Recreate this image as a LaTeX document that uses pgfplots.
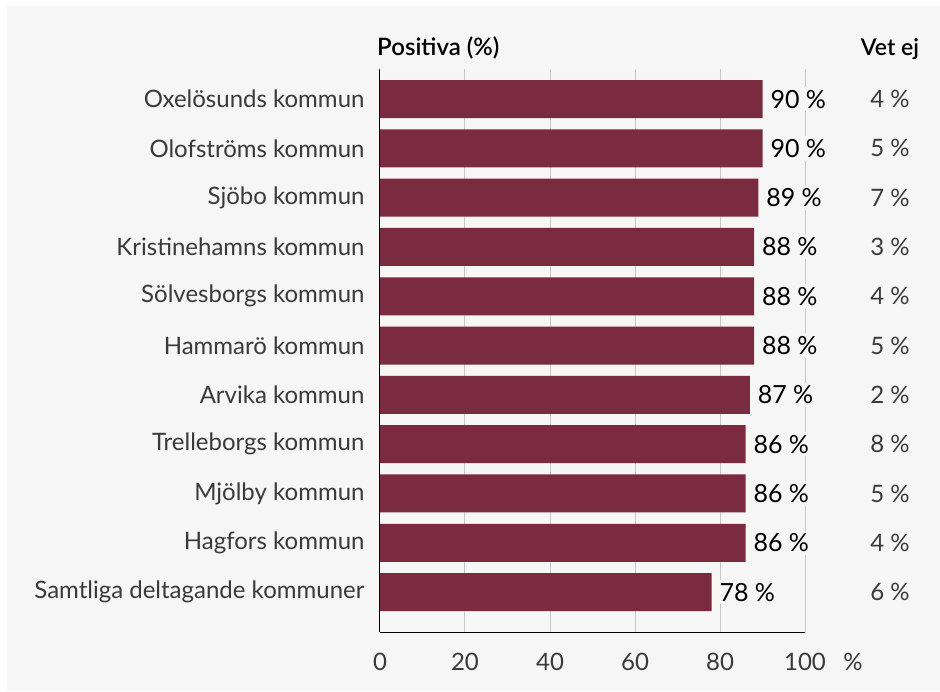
\documentclass[border=0pt]{standalone}
\usepackage{pgfplots}
\pgfplotsset{compat=1.18}
\usepackage{pgfplotstable}
\usepackage{fontspec}
\setmainfont{Lato}
\newfontfamily\semifont{Lato Semibold}

\definecolor{panel}{HTML}{F6F6F6}
\definecolor{barc}{HTML}{7B2B40}
\definecolor{gridc}{HTML}{C8C8C8}
\definecolor{txt}{HTML}{3A3A3A}

\pgfplotstableread[col sep=comma]{
name,pos,vetej
Oxelösunds kommun,90,4
Olofströms kommun,90,5
Sjöbo kommun,89,7
Kristinehamns kommun,88,3
Sölvesborgs kommun,88,4
Hammarö kommun,88,5
Arvika kommun,87,2
Trelleborgs kommun,86,8
Mjölby kommun,86,5
Hagfors kommun,86,4
Samtliga deltagande kommuner,78,6
}\data

\begin{document}
\begin{tikzpicture}
\useasboundingbox (0,0) rectangle (940pt,691pt);
\fill[white] (0,0) rectangle (940pt,691pt);
\fill[panel] (7pt,0) rectangle (940pt,685pt);
\begin{axis}[
  at={(380pt,59pt)}, anchor=south west,
  scale only axis, width=425pt, height=563pt,
  xmin=0, xmax=100, ymin=-0.61, ymax=10.81, y dir=reverse,
  axis x line*=bottom, axis y line*=left,
  axis line style={black, line width=1pt, -},
  xtick={0,20,...,100}, ytick={0,...,10},
  yticklabels from table={\data}{name},
  /pgf/number format/assume math mode=true,
  major tick length=0pt,
  xmajorgrids, major grid style={gridc, line width=1pt},
  tick label style={font=\fontsize{24}{28}\selectfont, text=txt},
  xticklabel style={anchor=base, yshift=-38pt},
  yticklabel style={xshift=-12pt},
  clip=false]
  \addplot[xbar, bar width=38pt, bar shift=0pt, fill=barc, draw=none,
    point meta=x,
    nodes near coords={\pgfmathprintnumber[assume math mode=true]{\pgfplotspointmeta}\hspace{0.25em}\%},
    every node near coord/.append style={anchor=west, fill=panel, text=black,
      font=\fontsize{25}{29}\selectfont, inner sep=3pt, xshift=5pt}]
    table[x=pos, y expr=\coordindex] {\data};
  \addplot[draw=none, mark=none, point meta=explicit symbolic,
    nodes near coords={\pgfplotspointmeta\hspace{0.25em}\%},
    every node near coord/.append style={anchor=center, text=txt,
      font=\fontsize{24}{28}\selectfont}]
    table[x expr=120, y expr=\coordindex, meta=vetej] {\data};
  \node[anchor=base west, inner sep=0pt, font=\semifont\fontsize{24}{28}\selectfont]
    at (axis cs:-0.7,-0.61) [yshift=14pt] {Positiva (\%)};
  \node[anchor=base, inner sep=0pt, font=\semifont\fontsize{23}{27}\selectfont]
    at (axis cs:120,-0.61) [yshift=14pt] {Vet ej};
  \node[anchor=base, inner sep=0pt, text=txt, font=\fontsize{24}{28}\selectfont]
    at (axis cs:111.3,10.81) [yshift=-38pt] {\%};
\end{axis}
\end{tikzpicture}
\end{document}
